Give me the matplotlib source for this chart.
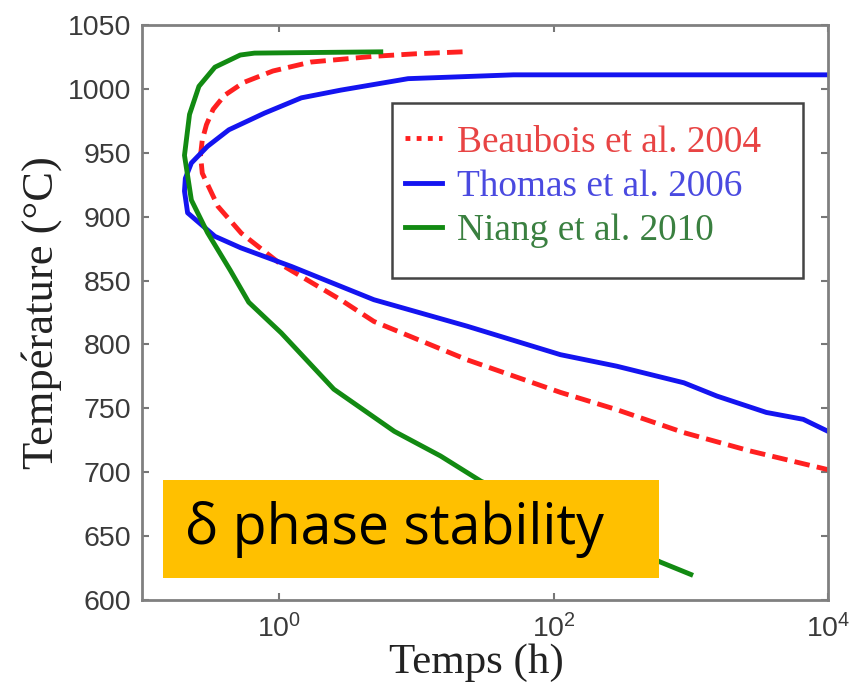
import matplotlib
matplotlib.use('Agg')
import matplotlib.pyplot as plt
from matplotlib.lines import Line2D
from matplotlib.patches import Rectangle

plt.rcParams['mathtext.fontset'] = 'custom'
plt.rcParams['mathtext.rm'] = 'Liberation Sans'
plt.rcParams['mathtext.it'] = 'Liberation Sans:italic'

# Data (time in h, temperature in °C), along each C-shaped curve
beaubois_t = [21.7, 10, 4.9, 1.7, 0.9, 0.55, 0.40, 0.33, 0.295, 0.275, 0.267, 0.275, 0.358,
              0.53, 1.035, 2.8, 4.9, 23.4, 112, 288, 890, 2690, 10000]
beaubois_T = [1029, 1027.5, 1025.5, 1021, 1014, 1005, 995, 984, 972, 960, 948, 934, 908,
              887, 862.5, 835, 818, 788, 762.5, 749, 731, 716.7, 702]

thomas_t = [10000, 51, 8.7, 2.8, 1.45, 0.78, 0.43, 0.30, 0.229, 0.207, 0.204, 0.215,
            0.34, 0.525, 1.23, 4.9, 23.4, 112, 288, 890, 1550, 3550, 6600, 10000]
thomas_T = [1011, 1011, 1008, 999, 993, 981, 968, 955, 942, 930, 920, 903,
            884.6, 875.6, 861, 835, 814.3, 792, 783, 770, 759.6, 746.8, 741.4, 732]

niang_t = [5.5, 0.66, 0.52, 0.34, 0.26, 0.222, 0.204, 0.229, 0.30, 0.44, 0.60, 1.035, 2.5,
           6.9, 15, 29.5, 125, 600, 1000]
niang_T = [1029, 1028, 1026.5, 1017, 1002, 980, 948, 913, 887.5, 858, 833, 809, 765,
           732, 712.7, 693, 663, 629.7, 620]

labels = ['Beaubois et al. 2004', 'Thomas et al. 2006', 'Niang et al. 2010']
xticks = [1, 100, 10000]
xtick_labels = ['$10^0$', '$10^2$', '$10^4$']
yticks = list(range(600, 1051, 50))

red = '#ff2020'
blue = '#1414f0'
green = '#128a12'

W, H = 858, 693
fig = plt.figure(figsize=(W / 100, H / 100), dpi=100)
ax = fig.add_axes([142 / W, 1 - 600 / H, 686 / W, 575 / H])


def ax_xy(px, py):
    # picture pixels -> axes fraction
    return (px - 142) / 686, 1 - (py - 25) / 575


ax.plot(beaubois_t, beaubois_T, color=red, lw=3.5, linestyle=(0, (3.2, 1.5)))
ax.plot(thomas_t, thomas_T, color=blue, lw=3.5)
ax.plot(niang_t, niang_T, color=green, lw=3.5)

ax.set_xscale('log')
ax.set_xlim(0.1, 10000)
ax.set_ylim(600, 1050)
ax.set_xticks(xticks)
ax.set_xticklabels(xtick_labels)
ax.set_yticks(yticks)
ax.minorticks_off()

ax.tick_params(direction='in', top=True, right=True, length=5, width=1.5,
               color='#777777', labelsize=20.5, labelcolor='#3a3a3a')
ax.tick_params(axis='y', pad=8)
ax.tick_params(axis='x', pad=10)
for lbl in ax.get_yticklabels():
    lbl.set_fontfamily('Liberation Sans')
for sp in ax.spines.values():
    sp.set_color('#808080')
    sp.set_linewidth(2)

ax.set_xlabel('Temps (h)', family='Liberation Serif', fontsize=31, color='#222222')
ax.xaxis.set_label_coords(*ax_xy(476, 643))
ax.xaxis.label.set_va('top')
ax.set_ylabel('Température (°C)', family='Liberation Serif', fontsize=32, color='#222222', labelpad=4)

# legend frame drawn separately (wider on the right, like the original)
lx0, ly0 = ax_xy(392, 278)
lx1, ly1 = ax_xy(803, 103)
ax.add_patch(Rectangle((lx0, ly0), lx1 - lx0, ly1 - ly0, transform=ax.transAxes,
                       facecolor='white', edgecolor='#444444', linewidth=1.8, zorder=4))

handles = [Line2D([], [], color=red, lw=3.5, linestyle=(0, (1, 1.3))),
           Line2D([], [], color=blue, lw=3.5),
           Line2D([], [], color=green, lw=3.5)]
leg = ax.legend(handles, labels, loc='upper left',
                bbox_to_anchor=ax_xy(405, 125),
                borderaxespad=0, frameon=False, borderpad=0,
                prop={'family': 'Liberation Serif', 'size': 26.8},
                handlelength=1.0, handletextpad=0.4, labelspacing=0.26)
leg.set_zorder(5)
for txt, c in zip(leg.get_texts(), ['#e84444', '#4a4ae0', '#3a8040']):
    txt.set_color(c)

# yellow annotation box
x0, y1 = ax_xy(163, 480)
x1, y0 = ax_xy(659, 578)
ax.add_patch(Rectangle((x0, y0), x1 - x0, y1 - y0, transform=ax.transAxes,
                       facecolor='#ffc000', edgecolor='none', zorder=6, clip_on=False))
ax.text(x0 + 22 / 686, (y0 + y1) / 2, 'δ phase stability', transform=ax.transAxes,
        ha='left', va='center', fontsize=40, family=['Open Sans', 'DejaVu Sans'],
        color='black', zorder=7)

fig.savefig('out.png', dpi=100)
